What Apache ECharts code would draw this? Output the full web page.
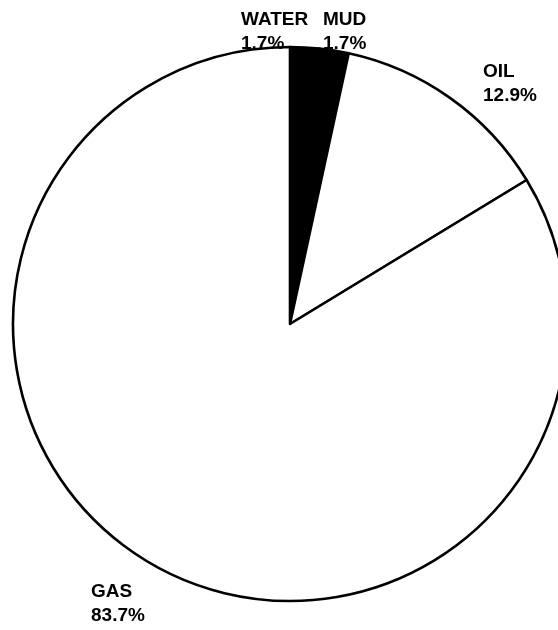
<!DOCTYPE html>
<html>
<head>
<meta charset="utf-8">
<script src="https://cdn.jsdelivr.net/npm/echarts@6/dist/echarts.min.js"></script>
<style>
html,body{margin:0;padding:0;background:#fff;}
#main{width:558px;height:630px;}
</style>
</head>
<body>
<div id="main"></div>
<script>
const categories = ['WATER', 'MUD', 'OIL', 'GAS'];
const values = [1.7, 1.7, 12.9, 83.7];
const sliceColors = ['#000000', '#000000', '#ffffff', '#ffffff'];
const labelAnchors = {
  WATER: [241, 8],
  MUD: [323, 8],
  OIL: [483, 60],
  GAS: [91, 580]
};

const chart = echarts.init(document.getElementById('main'), null, {renderer: 'canvas'});
chart.setOption({
  backgroundColor: '#ffffff',
  animation: false,
  series: [{
    type: 'pie',
    center: [290, 324],
    radius: 277,
    startAngle: 90,
    clockwise: true,
    avoidLabelOverlap: false,
    data: categories.map((c, i) => ({
      name: c,
      value: values[i],
      itemStyle: {color: sliceColors[i]}
    })),
    itemStyle: {borderColor: '#000', borderWidth: 2.6},
    label: {
      show: true,
      formatter: '{b}\n{c}%',
      fontFamily: 'Liberation Sans, Arial, sans-serif',
      fontWeight: 'bold',
      fontSize: 19,
      lineHeight: 24,
      color: '#000',
      align: 'left'
    },
    labelLine: {show: false},
    labelLayout: function (params) {
      const name = categories[params.dataIndex];
      const p = labelAnchors[name];
      return {x: p[0], y: p[1], align: 'left', verticalAlign: 'top'};
    },
    emphasis: {disabled: true}
  }]
});
</script>
</body>
</html>
